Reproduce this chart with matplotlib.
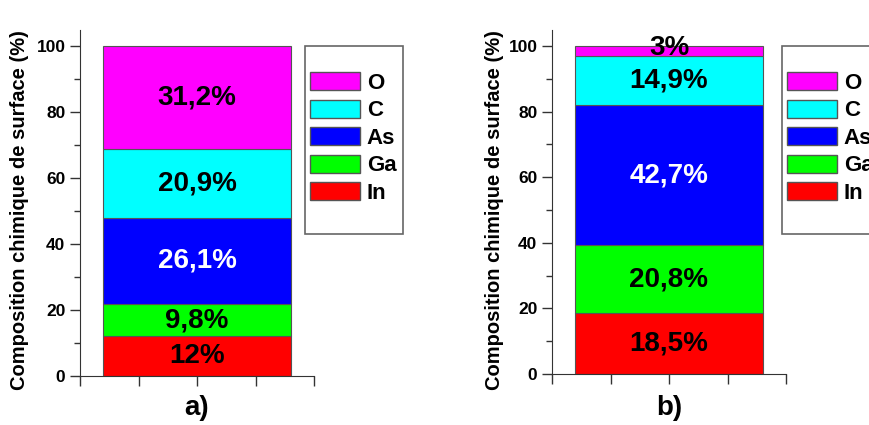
import matplotlib
matplotlib.use("Agg")
import matplotlib.pyplot as plt
from matplotlib.patches import Patch, Rectangle
from matplotlib.ticker import MultipleLocator

plt.rcParams['font.family'] = ['Liberation Sans', 'DejaVu Sans']
plt.rcParams['font.weight'] = 'bold'

# data
elements = ["In", "Ga", "As", "C", "O"]
colors = ["#ff0000", "#00ff00", "#0000ff", "#00ffff", "#ff00ff"]
values_a = [12, 9.8, 26.1, 20.9, 31.2]
values_b = [18.5, 20.8, 42.7, 14.9, 3]
labels_a = ["12%", "9,8%", "26,1%", "20,9%", "31,2%"]
labels_b = ["18,5%", "20,8%", "42,7%", "14,9%", "3%"]
text_colors = ["black", "black", "white", "black", "black"]

W, H = 869, 425
fig = plt.figure(figsize=(W / 100, H / 100), dpi=100)


def panel(x0, x1, y0, y100, values, labels, tag, ylab_x, leg_box):
    # pixel geometry -> figure fraction, y axis goes 0..105
    ytop = y0 - (y0 - y100) * 1.05
    ax = fig.add_axes([x0 / W, 1 - y0 / H, (x1 - x0) / W, (y0 - ytop) / H])
    bottom = 0
    for v, c, lab, tc in zip(values, colors, labels, text_colors):
        ax.bar(1, v, width=0.8, bottom=bottom, color=c, edgecolor="#555555", linewidth=0.8)
        yc = bottom + v / 2
        if v < 5:
            yc = bottom + v - 0.5
        ax.text(1, yc, lab, ha="center", va="center", fontsize=20, fontweight="bold", color=tc)
        bottom += v
    ax.set_xlim(0.5, 1.5)
    ax.set_ylim(0, 105)
    ax.set_xticks([0.5, 0.75, 1, 1.25, 1.5])
    ax.set_xticklabels([])
    ax.set_yticks([0, 20, 40, 60, 80, 100])
    ax.yaxis.set_minor_locator(MultipleLocator(10))
    ax.tick_params(axis="both", which="major", direction="out", length=7, width=1,
                   labelsize=12.5, color="#333333")
    ax.tick_params(axis="y", which="minor", direction="out", length=4, width=1, color="#333333")
    for lbl in ax.get_yticklabels():
        lbl.set_fontweight("bold")
    ax.spines["top"].set_visible(False)
    ax.spines["right"].set_visible(False)
    ax.spines["left"].set_color("#333333")
    ax.spines["bottom"].set_color("#333333")
    fig.text(ylab_x / W, 1 - 210 / H, "Composition chimique de surface (%)", rotation=90,
             ha="center", va="center", fontsize=14.5, fontweight="bold")
    fig.text(((x0 + x1) / 2 - 0) / W, 1 - 408 / H, tag, ha="center", va="center",
             fontsize=20, fontweight="bold")
    # legend frame drawn by hand, entries by fig.legend
    lx, ly, lw, lh = leg_box
    fig.patches.append(Rectangle((lx / W, 1 - (ly + lh) / H), lw / W, lh / H,
                                 transform=fig.transFigure, facecolor="white",
                                 edgecolor="#666666", linewidth=1.2))
    handles = [Patch(facecolor=c, edgecolor="#555555", label=e) for e, c in zip(elements, colors)]
    fig.legend(handles[::-1], elements[::-1], loc="upper left",
               bbox_to_anchor=((lx + 5) / W, 1 - (ly + 26) / H),
               frameon=False, handlelength=2.25, handleheight=0.88,
               labelspacing=0.26, handletextpad=0.3, borderaxespad=0, borderpad=0,
               prop={"weight": "bold", "size": 16})


panel(80, 314, 376, 46, values_a, labels_a, "a)", 20, (305, 46, 98, 188))
panel(552, 786, 374, 46, values_b, labels_b, "b)", 494, (782, 46, 98, 188))

fig.savefig("out.png", dpi=100)
